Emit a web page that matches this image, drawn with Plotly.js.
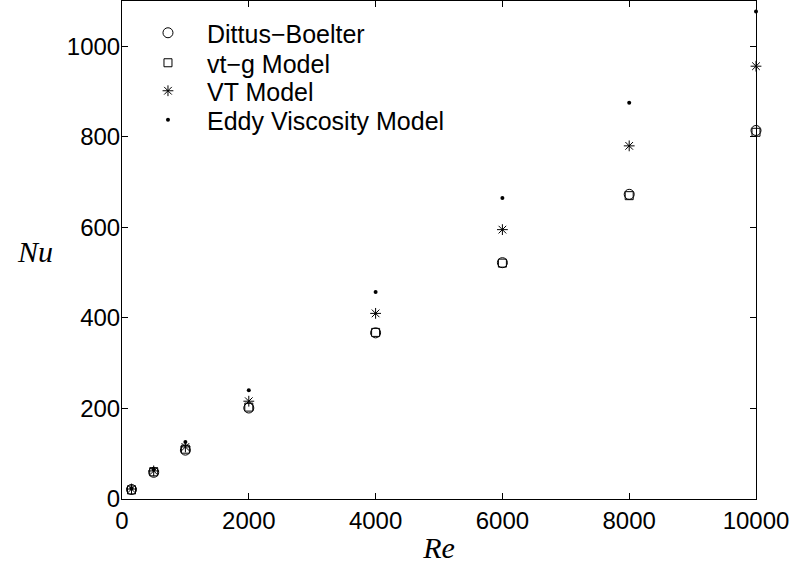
<!DOCTYPE html>
<html><head><meta charset="utf-8">
<script src="https://cdn.plot.ly/plotly-3.0.1.min.js"></script>
<style>html,body{margin:0;padding:0;background:#fff}</style>
</head><body><div id="chart" style="width:793px;height:571px"></div>
<script>
var re = [150, 500, 1000, 2000, 4000, 6000, 8000, 10000];
var nuDittus = [21, 59, 108, 201, 367, 522, 673, 814];
var nuVtg = [20, 60, 110, 203, 368, 521, 670, 810];
var nuVT = [22, 62, 115, 216, 410, 595, 780, 956];
var nuEddy = [23, 65, 126, 240, 457, 665, 875, 1077];
var seriesNames = ['Dittus\u2212Boelter', 'vt\u2212g Model', 'VT Model', 'Eddy Viscosity Model'];
var xTicks = [0, 2000, 4000, 6000, 8000, 10000];
var yTicks = [0, 200, 400, 600, 800, 1000];

function tr(y, name, sym, size, lw, leg) {
  return {x: re, y: y, name: name, type: 'scatter', mode: 'markers', legend: leg,
    marker: {symbol: sym, size: size, color: '#000', line: {color: '#000', width: lw}}, cliponaxis: false};
}
var data = [
  tr(nuDittus, seriesNames[0], 'circle-open', 10, 1, 'legend'),
  tr(nuVtg, seriesNames[1], 'square-open', 8, 1, 'legend2'),
  tr(nuVT, seriesNames[2], 'asterisk-open', 9, 1, 'legend3'),
  tr(nuEddy, seriesNames[3], 'circle', 4, 0, 'legend4')
];
var tickFont = {family: 'Liberation Sans, Arial, sans-serif', size: 24, color: '#000'};
var legFont = {family: 'Liberation Sans, Arial, sans-serif', size: 25, color: '#000'};
function leg(py) {
  return {x: 0.011, y: (499 - py) / 498, xanchor: 'left', yanchor: 'middle', bgcolor: 'rgba(0,0,0,0)',
    font: legFont, itemwidth: 68, borderwidth: 0};
}
var layout = {
  width: 793, height: 571,
  margin: {l: 122, r: 37, t: 1, b: 72},
  paper_bgcolor: '#fff', plot_bgcolor: '#fff',
  showlegend: true,
  legend: leg(33), legend2: leg(63), legend3: leg(91), legend4: leg(120),
  xaxis: {range: [0, 10000], tickvals: xTicks, ticktext: xTicks.map(String), ticks: 'inside', ticklen: 6,
    tickcolor: '#000', showline: true, linecolor: '#000', linewidth: 1, mirror: 'ticks', showgrid: false,
    zeroline: false, tickfont: tickFont,
    title: {text: '<i>Re</i>', font: {family: 'Liberation Serif, serif', size: 30, color: '#000'}, standoff: 4}},
  yaxis: {range: [0, 1100], tickvals: yTicks, ticktext: yTicks.map(String), ticks: 'inside', ticklen: 6,
    tickcolor: '#000', showline: true, linecolor: '#000', linewidth: 1, mirror: 'ticks', showgrid: false,
    zeroline: false, tickfont: tickFont, ticklabelstandoff: -4},
  annotations: [{text: '<i>Nu</i>', xref: 'paper', yref: 'paper', x: (35 - 122) / 634, y: (499 - 251) / 498,
    xanchor: 'center', yanchor: 'middle',
    showarrow: false, font: {family: 'Liberation Serif, serif', size: 30, color: '#000'}}]
};
Plotly.newPlot('chart', data, layout, {displayModeBar: false, staticPlot: true});
</script></body></html>
